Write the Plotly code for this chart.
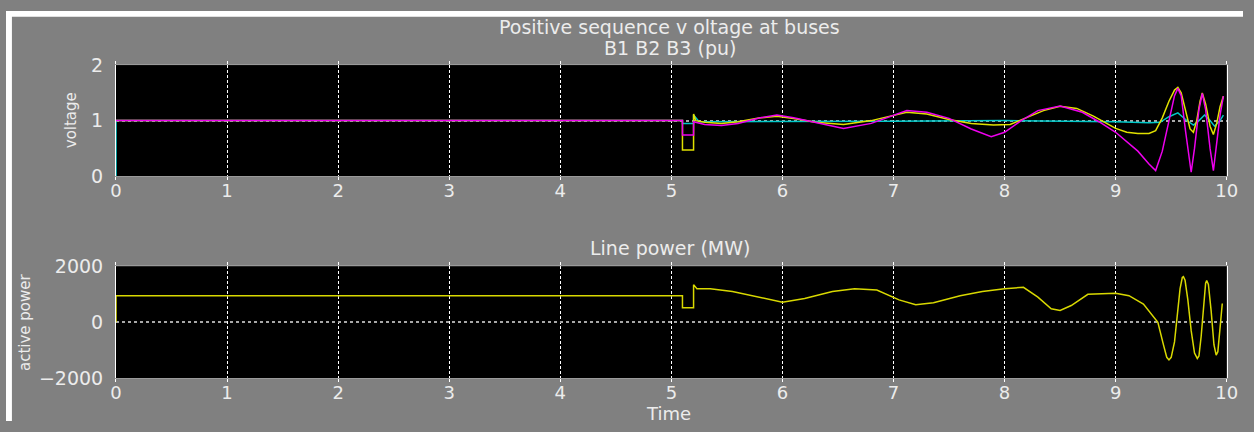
import plotly.graph_objects as go

# ---------------- data ----------------
# Bus voltages (pu)
t_b1 = [0, 5.1, 5.1, 5.2, 5.2, 5.22, 5.3, 5.45, 5.6, 5.8, 5.95, 6.1, 6.3, 6.55, 6.8, 7.0, 7.12,
        7.3, 7.5, 7.7, 7.9, 8.05, 8.2, 8.35, 8.5, 8.65, 8.8, 9.0, 9.1, 9.2, 9.3, 9.36, 9.42,
        9.48, 9.53, 9.56, 9.59, 9.63, 9.67, 9.70, 9.73, 9.76, 9.78, 9.81, 9.85, 9.88, 9.91, 9.94, 9.97]
v_b1 = [1, 1, 0.47, 0.47, 1.12, 1.0, 0.97, 0.95, 0.98, 1.05, 1.08, 1.04, 0.97, 0.93, 1.0, 1.1, 1.15,
        1.12, 1.02, 0.95, 0.92, 0.93, 1.05, 1.18, 1.26, 1.22, 1.08, 0.86, 0.79, 0.77, 0.77, 0.82, 1.05,
        1.35, 1.55, 1.6, 1.5, 1.15, 0.85, 0.79, 1.0, 1.35, 1.5, 1.3, 0.9, 0.75, 0.95, 1.25, 1.44]

t_b2 = [0, 5.1, 5.1, 5.2, 5.2, 5.3, 5.45, 5.6, 5.8, 5.95, 6.1, 6.3, 6.55, 6.8, 7.0, 7.12, 7.3,
        7.5, 7.7, 7.88, 8.0, 8.15, 8.3, 8.5, 8.7, 8.85, 9.0, 9.1, 9.2, 9.3, 9.36, 9.42, 9.48,
        9.53, 9.56, 9.59, 9.63, 9.66, 9.68, 9.71, 9.75, 9.78, 9.81, 9.85, 9.88, 9.91, 9.94, 9.97]
v_b2 = [1, 1, 0.74, 0.74, 0.98, 0.93, 0.91, 0.95, 1.05, 1.10, 1.05, 0.96, 0.86, 0.95, 1.1, 1.18, 1.15,
        1.04, 0.85, 0.71, 0.79, 1.0, 1.18, 1.265, 1.15, 0.98, 0.79, 0.62, 0.45, 0.22, 0.10, 0.45, 1.0,
        1.45, 1.58, 1.45, 0.8, 0.3, 0.07, 0.5, 1.2, 1.49, 1.2, 0.5, 0.10, 0.6, 1.1, 1.44]

t_b3 = [0, 0, 5.1, 5.1, 5.2, 5.2, 5.25, 6.0, 7.0, 8.0, 9.0, 9.3, 9.4, 9.48, 9.56, 9.63, 9.70,
        9.75, 9.8, 9.85, 9.89, 9.94, 9.97]
v_b3 = [0, 1, 1, 0.95, 0.95, 1.1, 0.98, 0.99, 0.99, 1.0, 0.98, 0.96, 0.97, 1.07, 1.14, 1.02, 0.92,
        1.0, 1.1, 1.0, 0.9, 1.0, 1.1]

# Line active power (MW)
t_p = [0, 0, 5.1, 5.1, 5.2, 5.2, 5.23, 5.35, 5.55, 5.8, 6.0, 6.2, 6.45, 6.65, 6.85, 7.05, 7.2,
       7.36, 7.6, 7.8, 8.0, 8.17, 8.3, 8.42, 8.5, 8.6, 8.75, 9.0, 9.12, 9.25, 9.32, 9.38, 9.43,
       9.46, 9.48, 9.50, 9.53, 9.555, 9.58, 9.60, 9.61, 9.625, 9.65, 9.68, 9.71, 9.735, 9.75,
       9.77, 9.79, 9.81, 9.82, 9.835, 9.86, 9.885, 9.905, 9.92, 9.94, 9.96]
p_line = [0, 950, 950, 520, 520, 1345, 1200, 1200, 1100, 900, 720, 850, 1100, 1200, 1150, 800, 630,
          700, 950, 1100, 1200, 1250, 900, 480, 420, 600, 1000, 1040, 950, 650, 300, 0, -800,
          -1250, -1345, -1250, -700, 200, 1200, 1600, 1630, 1500, 800, -300, -1100, -1290, -1200,
          -500, 500, 1400, 1490, 1350, 400, -800, -1175, -1050, -200, 670]

x_ticks = list(range(0, 11))
v_ticks = [0, 1, 2]
p_ticks = [-2000, 0, 2000]

# ---------------- layout helpers ----------------
W, H = 1254, 432
def px(x):
    return x / W
def py(y):
    return 1 - y / H

FONT = "DejaVu Sans"
TXT = "#ececec"

fig = go.Figure()
fig.add_trace(go.Scatter(x=t_b3, y=v_b3, mode="lines", line=dict(color="#00c8c8", width=1.5),
                         xaxis="x", yaxis="y", showlegend=False))
fig.add_trace(go.Scatter(x=t_b1, y=v_b1, mode="lines", line=dict(color="#e0e000", width=1.5),
                         xaxis="x", yaxis="y", showlegend=False))
fig.add_trace(go.Scatter(x=t_b2, y=v_b2, mode="lines", line=dict(color="#ee00ee", width=1.5),
                         xaxis="x", yaxis="y", showlegend=False))
fig.add_trace(go.Scatter(x=t_p, y=p_line, mode="lines", line=dict(color="#d8d800", width=1.5),
                         xaxis="x2", yaxis="y2", showlegend=False))

xdom = [px(111.5), px(1237.5)]
xa = dict(range=[0, 10], domain=xdom, tickvals=x_ticks, showgrid=True, gridcolor="#ffffff",
          griddash="3px,2px", gridwidth=1, zeroline=False, showline=True, linecolor="#9a9a9a",
          linewidth=1, mirror="ticks", ticks="outside", ticklen=3, tickcolor="#ffffff",
          ticklabelstandoff=-5, tickfont=dict(family=FONT, size=18, color=TXT))
ya = dict(showgrid=True, gridcolor="#a8a8a8", griddash="dot", gridwidth=2, zeroline=False,
          showline=True, linecolor="#ffffff", linewidth=1, mirror=True, ticks="",
          ticklabelstandoff=8, tickfont=dict(family=FONT, size=19, color=TXT))

fig.update_layout(
    width=W, height=H,
    margin=dict(l=0, r=0, t=0, b=0),
    paper_bgcolor="#808080",
    plot_bgcolor="#000000",
    xaxis=dict(xa, anchor="y"),
    yaxis=dict(ya, range=[0, 2], tickvals=v_ticks, domain=[py(174), py(57)], anchor="x"),
    xaxis2=dict(xa, anchor="y2"),
    yaxis2=dict(ya, range=[-2000, 2000], tickvals=p_ticks, domain=[py(387), py(269)], anchor="x2"),
    shapes=[
        dict(type="rect", xref="paper", yref="paper", x0=0, x1=1.0, y0=py(6), y1=1.0,
             fillcolor="#ffffff", line=dict(width=0), layer="above"),
        dict(type="rect", xref="paper", yref="paper", x0=0, x1=px(6), y0=0, y1=1.0,
             fillcolor="#ffffff", line=dict(width=0), layer="above"),
    ],
)

def ann(text, x, y, size=19, angle=0):
    fig.add_annotation(text=text, x=px(x), y=py(y), xref="paper", yref="paper",
                       showarrow=False, xanchor="center", yanchor="middle", textangle=angle,
                       font=dict(family=FONT, size=size, color=TXT))

ann("Positive sequence v oltage at buses", 673, 17)
ann("B1 B2 B3 (pu)", 673, 39)
ann("Line power (MW)", 673, 250)
ann("Time", 672, 424, size=18)
ann("voltage", 66, 115, size=15, angle=-90)
ann("active power", 20, 328, size=15, angle=-90)

post = (
    "document.documentElement.style.margin='0';"
    "document.body.style.margin='0';"
    "document.body.style.overflow='hidden';"
)

fig.write_html("out.html", config={"displayModeBar": False}, post_script=post)
